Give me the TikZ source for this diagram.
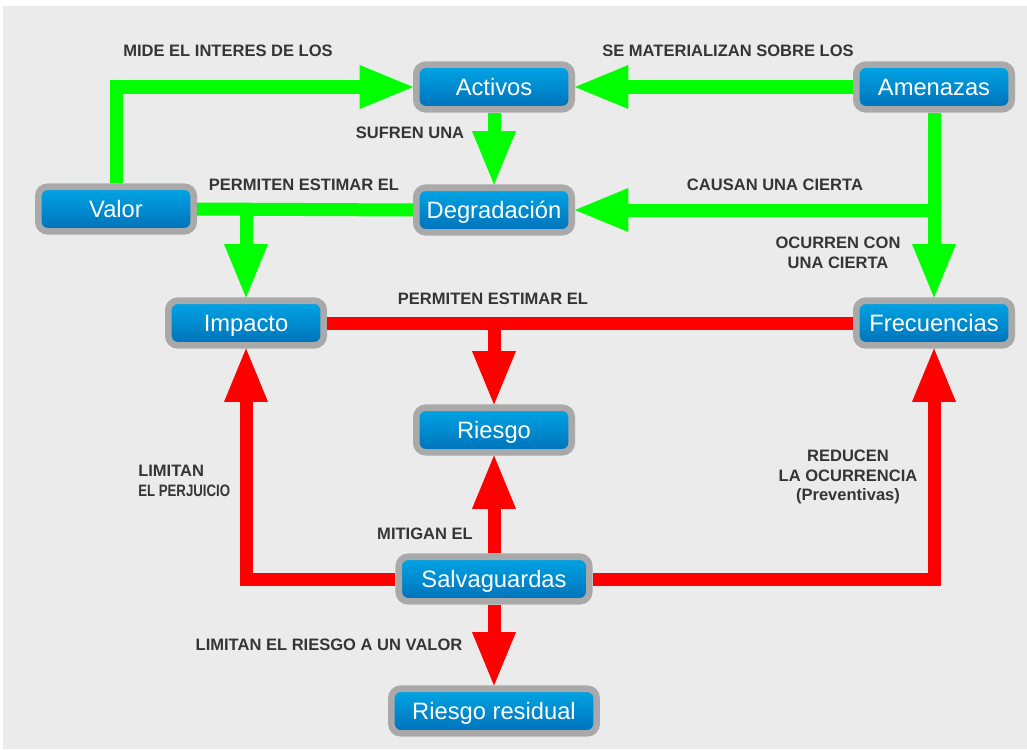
\documentclass[tikz,border=0pt]{standalone}
\usepackage{fontspec}
\usetikzlibrary{arrows.meta}
\newfontfamily\boxfont{Liberation Sans}
\newfontfamily\labfont{Liberation Sans}
\definecolor{bggray}{HTML}{EBEBEB}
\definecolor{boxgray}{HTML}{A9A9A9}
\definecolor{bluetop}{HTML}{00A6E6}
\definecolor{bluebot}{HTML}{0070B8}
\definecolor{lgreen}{HTML}{00FF00}
\definecolor{lred}{HTML}{FF0000}
\definecolor{labgray}{HTML}{353535}
\tikzset{
  box/.style={draw=boxgray, line width=4.9pt, rounded corners=7pt,
    top color=bluetop, bottom color=bluebot, minimum width=116.6pt,
    minimum height=33.4pt, inner sep=0pt, text=white,
    font=\boxfont\fontsize{17.8}{20}\selectfont, text height=12.75pt, text depth=0pt},
  gline/.style={draw=lgreen, line width=9.75pt},
  rline/.style={draw=lred, line width=9.75pt},
  tipend/.style={-{Triangle[width=33pt,length=40pt,line width=0pt]}},
  lab/.style={text=labgray, inner sep=0pt, align=center,
    font=\labfont\bfseries\fontsize{12.4}{14.6}\selectfont},
}
\begin{document}
\begin{tikzpicture}[x=0.75pt,y=-0.75pt]
\useasboundingbox (0,0) rectangle (1027,749);
\fill[white] (0,0) rectangle (1027,749);
\fill[bggray] (3,6) rectangle (1027,749);

% nodes
\node[box] (activos) at (494,87) {Activos};
\node[box] (amenazas) at (934,87) {Amenazas};
\node[box] (valor) at (116,209) {Valor};
\node[box] (degr) at (494,210) {Degradación};
\node[box] (impacto) at (246,323) {Impacto};
\node[box] (frec) at (934,323) {Frecuencias};
\node[box] (riesgo) at (494,430) {Riesgo};
\node[box, minimum width=142.9pt] (salv) at (494,579) {Salvaguardas};
\node[box, minimum width=154pt] (residual) at (494,711) {Riesgo residual};

% green connectors
\draw[gline, tipend] (valor.north) |- (activos.west);
\draw[gline, tipend] (amenazas.west) -- (activos.east);
\draw[gline, tipend] (activos.south) -- (degr.north);
\draw[gline, tipend] (amenazas.south) -- (frec.north);
\coordinate (jA) at (amenazas.south |- degr.east);
\draw[gline, tipend] (jA) -- (degr.east);
\draw[gline] (valor.east) -- (degr.west);
\coordinate (jV) at (impacto.north |- valor.east);
\draw[gline, tipend] (jV) -- (impacto.north);

% red connectors
\draw[rline] (impacto.east) -- (frec.west);
\coordinate (jR) at (riesgo.north |- impacto.east);
\draw[rline, tipend] (jR) -- (riesgo.north);
\draw[rline, tipend] (salv.north) -- (riesgo.south);
\draw[rline, tipend] (salv.south) -- (residual.north);
\draw[rline, tipend] (salv.west) -| (impacto.south);
\draw[rline, tipend] (salv.east) -| (frec.south);

% labels
\node[lab] (l1) at (228,51) {MIDE EL INTERES DE LOS};
\node[lab] (l2) at (728,51) {SE MATERIALIZAN SOBRE LOS};
\node[lab] (l3) at (410,133) {SUFREN UNA};
\node[lab] (l4) at (304,185) {PERMITEN ESTIMAR EL};
\node[lab] (l5) at (775,185) {CAUSAN UNA CIERTA};
\node[lab] (l6) at (838,253) {OCURREN CON\\UNA CIERTA};
\node[lab] (l7) at (493,299) {PERMITEN ESTIMAR EL};
\node[lab, align=left, anchor=west] (l8) at (138,481) {LIMITAN\\\scalebox{0.8}[1]{EL PERJUICIO}};
\node[lab] (l9) at (848,477) {REDUCEN\\LA OCURRENCIA\\(Preventivas)};
\node[lab] (l10) at (425,534) {MITIGAN EL};
\node[lab] (l11) at (329,645) {LIMITAN EL RIESGO A UN VALOR};
\end{tikzpicture}
\end{document}
